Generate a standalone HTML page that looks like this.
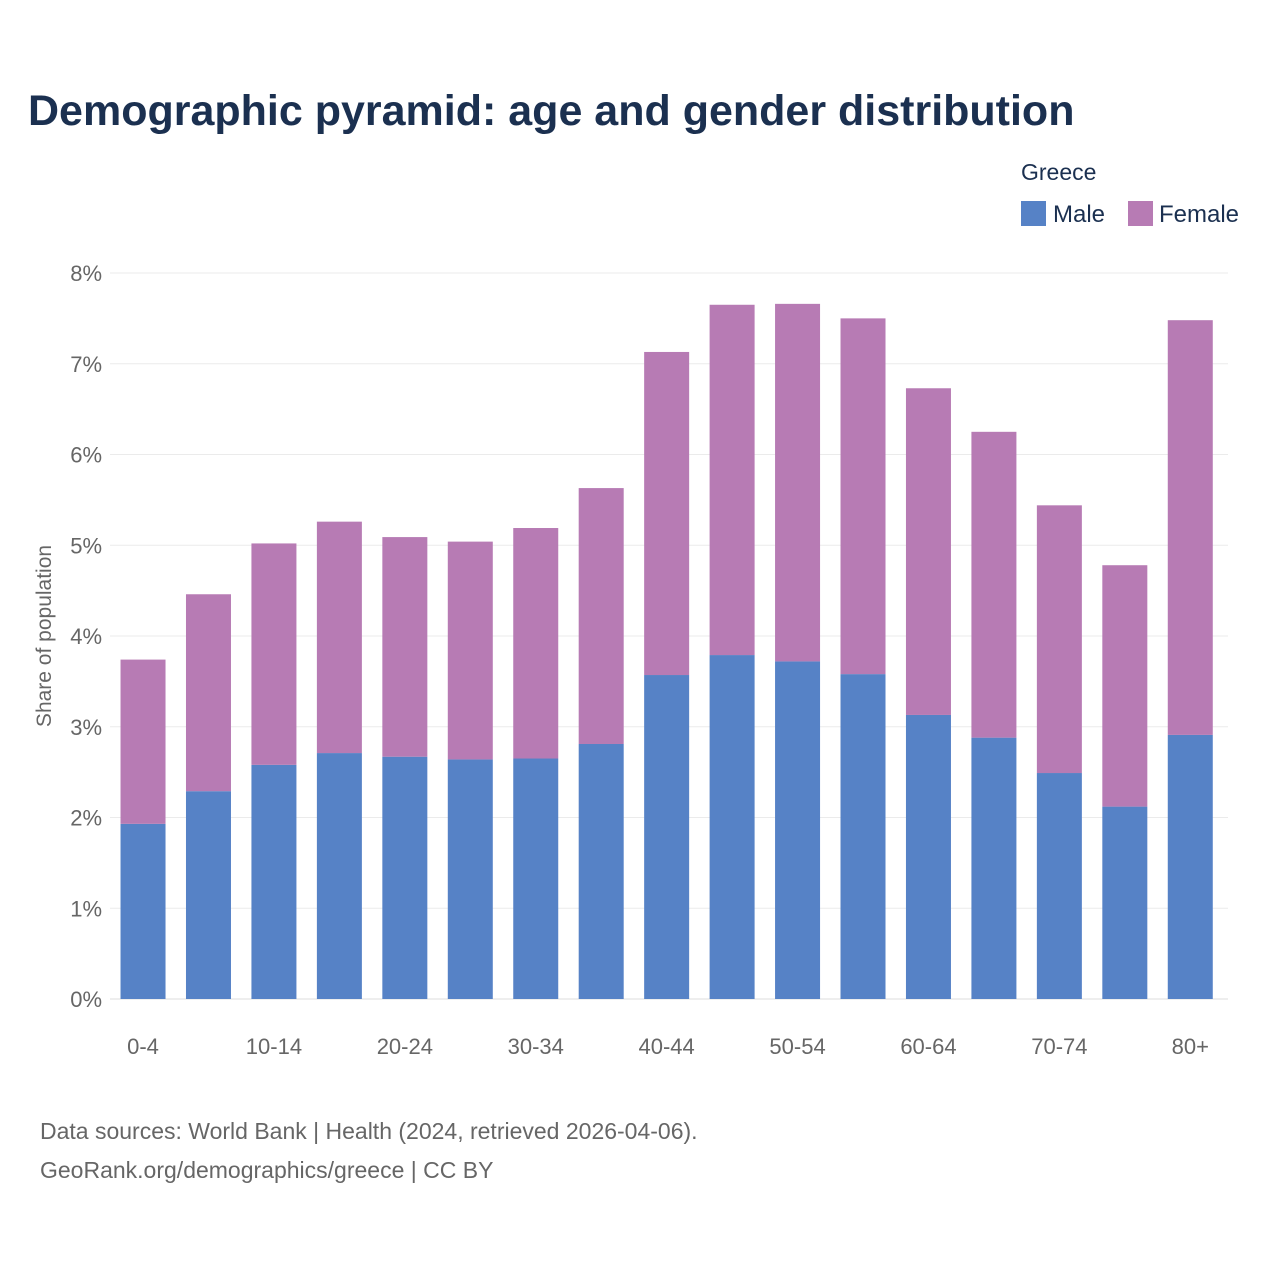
<!DOCTYPE html>
<html><head><meta charset="utf-8"><style>
body{margin:0;background:#fff;width:1280px;height:1280px;overflow:hidden;font-family:"Liberation Sans",sans-serif}
</style></head><body>
<svg id="chart" width="1280" height="1280" xmlns="http://www.w3.org/2000/svg">
<text x="28" y="125" font-size="43" font-weight="bold" fill="#1b3050">Demographic pyramid: age and gender distribution</text>
<g>
<text x="1021" y="180" font-size="23" fill="#1b3050">Greece</text>
<g><rect x="1021" y="201" width="25" height="25" fill="#5682c6"/><text x="1053" y="222" font-size="24" fill="#1b3050">Male</text></g>
<g><rect x="1128" y="201" width="25" height="25" fill="#b77bb4"/><text x="1159" y="222" font-size="24" fill="#1b3050">Female</text></g>
</g>
<g id="grid"></g><g id="bars"></g><g id="xlabels"></g>
<text transform="translate(51,636) rotate(-90)" text-anchor="middle" font-size="21" fill="#666">Share of population</text>
<text x="40" y="1139" font-size="23" fill="#666">Data sources: World Bank | Health (2024, retrieved 2026-04-06).</text>
<text x="40" y="1178" font-size="23" fill="#666">GeoRank.org/demographics/greece | CC BY</text>
</svg>
<script>
const categories=["0-4","5-9","10-14","15-19","20-24","25-29","30-34","35-39","40-44","45-49","50-54","55-59","60-64","65-69","70-74","75-79","80+"];
const maleValues=[1.93,2.29,2.58,2.71,2.67,2.64,2.65,2.81,3.57,3.79,3.72,3.58,3.13,2.88,2.49,2.12,2.91];
const femaleValues=[1.81,2.17,2.44,2.55,2.42,2.40,2.54,2.82,3.56,3.86,3.94,3.92,3.60,3.37,2.95,2.66,4.57];
const yTicks=[0,1,2,3,4,5,6,7,8];
const ns="http://www.w3.org/2000/svg";
const x0=110.3,x1=1223,gridEnd=1228,y0=999,yTop=273;
const y=v=>y0-(v/8)*(y0-yTop);
const step=(x1-x0)/categories.length;
const xc=i=>x0+step*(i+0.5);
const bw=45;
function mk(t,a){const e=document.createElementNS(ns,t);for(const k in a)e.setAttribute(k,a[k]);return e;}
const grid=document.getElementById('grid');
yTicks.forEach(t=>{
 const l=mk('line',{x1:110,x2:gridEnd,y1:y(t),y2:y(t),stroke:t===0?'#ddd':'#ebebeb','stroke-width':1});
 
 
 grid.appendChild(l);
 const tx=mk('text',{x:102,y:y(t)+8,'text-anchor':'end','font-size':22,fill:'#666'});
 tx.textContent=t+'%';
 
 
 grid.appendChild(tx);
});
const bars=document.getElementById('bars'),xl=document.getElementById('xlabels');
categories.forEach((c,i)=>{
 const m=maleValues[i],f=femaleValues[i];
 const rm=mk('rect',{x:xc(i)-bw/2,y:y(m),width:bw,height:y0-y(m),fill:'#5682c6'});
 
 
 bars.appendChild(rm);
 const rf=mk('rect',{x:xc(i)-bw/2,y:y(m+f),width:bw,height:y(m)-y(m+f),fill:'#b77bb4'});
 
 
 bars.appendChild(rf);
 if(i%2===0){
  const t=mk('text',{x:xc(i),y:1054,'text-anchor':'middle','font-size':22,fill:'#666'});
  t.textContent=c;
  
  
  xl.appendChild(t);
 }
});
</script>
</body></html>
